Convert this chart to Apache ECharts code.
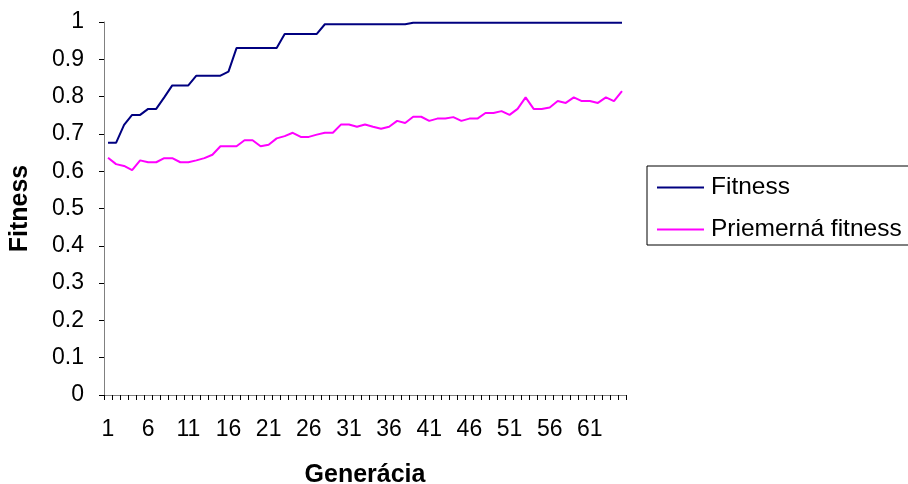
<!DOCTYPE html>
<html>
<head>
<meta charset="utf-8">
<script src="https://cdn.jsdelivr.net/npm/echarts@6/dist/echarts.min.js"></script>
<style>
  html, body { margin: 0; padding: 0; background: #ffffff; }
  #chart { width: 908px; height: 484px; }
</style>
</head>
<body>
<div id="chart"></div>
<script>
// Generations 1..65
const generations = Array.from({ length: 65 }, (_, i) => String(i + 1));

// Best fitness per generation
const bestFitness = [
  0.676, 0.676, 0.724, 0.751, 0.751, 0.767, 0.767, 0.798, 0.830, 0.830,
  0.830, 0.856, 0.856, 0.856, 0.856, 0.867, 0.930, 0.930, 0.930, 0.930,
  0.930, 0.930, 0.968, 0.968, 0.968, 0.968, 0.968, 0.994, 0.994, 0.994,
  0.994, 0.994, 0.994, 0.994, 0.994, 0.994, 0.994, 0.994, 0.998, 0.998,
  0.998, 0.998, 0.998, 0.998, 0.998, 0.998, 0.998, 0.998, 0.998, 0.998,
  0.998, 0.998, 0.998, 0.998, 0.998, 0.998, 0.998, 0.998, 0.998, 0.998,
  0.998, 0.998, 0.998, 0.998, 0.998
];

// Average fitness of the population per generation
const avgFitness = [
  0.636, 0.619, 0.614, 0.603, 0.629, 0.624, 0.624, 0.635, 0.635, 0.624,
  0.624, 0.629, 0.635, 0.644, 0.667, 0.667, 0.667, 0.683, 0.683, 0.667,
  0.671, 0.688, 0.694, 0.703, 0.692, 0.692, 0.698, 0.703, 0.703, 0.725,
  0.725, 0.719, 0.725, 0.719, 0.714, 0.719, 0.735, 0.729, 0.746, 0.746,
  0.735, 0.741, 0.741, 0.745, 0.735, 0.741, 0.741, 0.756, 0.756, 0.761,
  0.751, 0.767, 0.798, 0.767, 0.767, 0.771, 0.788, 0.783, 0.798, 0.788,
  0.788, 0.783, 0.798, 0.788, 0.815
];

const seriesNames = ['Fitness', 'Priemerná fitness'];
const xAxisTitle = 'Generácia';
const yAxisTitle = 'Fitness';

const FONT = 'Arial, "Liberation Sans", sans-serif';

const chart = echarts.init(document.getElementById('chart'), null, { renderer: 'canvas' });

chart.setOption({
  animation: false,
  backgroundColor: '#ffffff',
  grid: { left: 104, right: 282, top: 22, bottom: 89, containLabel: false, outerBoundsMode: 'none' },
  legend: {
    orient: 'vertical',
    left: 647,
    top: 166,
    data: seriesNames,
    icon: 'rect',
    itemWidth: 47,
    itemHeight: 2,
    itemGap: 17,
    padding: [9, 14, 3, 10],
    borderColor: '#000000',
    borderWidth: 1,
    textStyle: { fontFamily: FONT, fontSize: 24.5, color: '#000000', lineHeight: 25, padding: [0, 0, 0, 2] }
  },
  xAxis: {
    type: 'category',
    data: generations,
    boundaryGap: true,
    name: xAxisTitle,
    nameLocation: 'middle',
    nameGap: 68,
    nameTextStyle: { fontFamily: FONT, fontSize: 25, fontWeight: 'bold', color: '#000000' },
    axisLine: { lineStyle: { color: '#808080', width: 1 } },
    axisTick: { show: true, interval: 0, alignWithLabel: false, length: 5, lineStyle: { color: '#000000' } },
    axisLabel: { interval: 4, margin: 23, fontFamily: FONT, fontSize: 23, color: '#000000' },
    splitLine: { show: false }
  },
  yAxis: {
    type: 'value',
    min: 0,
    max: 1,
    interval: 0.1,
    name: yAxisTitle,
    nameLocation: 'middle',
    nameRotate: 90,
    nameGap: 71,
    nameTextStyle: { fontFamily: FONT, fontSize: 25, fontWeight: 'bold', color: '#000000' },
    axisLine: { show: true, lineStyle: { color: '#808080', width: 1 } },
    axisTick: { show: true, length: 5, lineStyle: { color: '#000000' } },
    axisLabel: { margin: 20, fontFamily: FONT, fontSize: 23, color: '#000000' },
    splitLine: { show: false }
  },
  series: [
    {
      name: seriesNames[0],
      type: 'line',
      data: bestFitness,
      symbol: 'none',
      lineStyle: { color: '#000080', width: 2 },
      itemStyle: { color: '#000080' }
    },
    {
      name: seriesNames[1],
      type: 'line',
      data: avgFitness,
      symbol: 'none',
      lineStyle: { color: '#ff00ff', width: 2 },
      itemStyle: { color: '#ff00ff' }
    }
  ]
});
</script>
</body>
</html>
